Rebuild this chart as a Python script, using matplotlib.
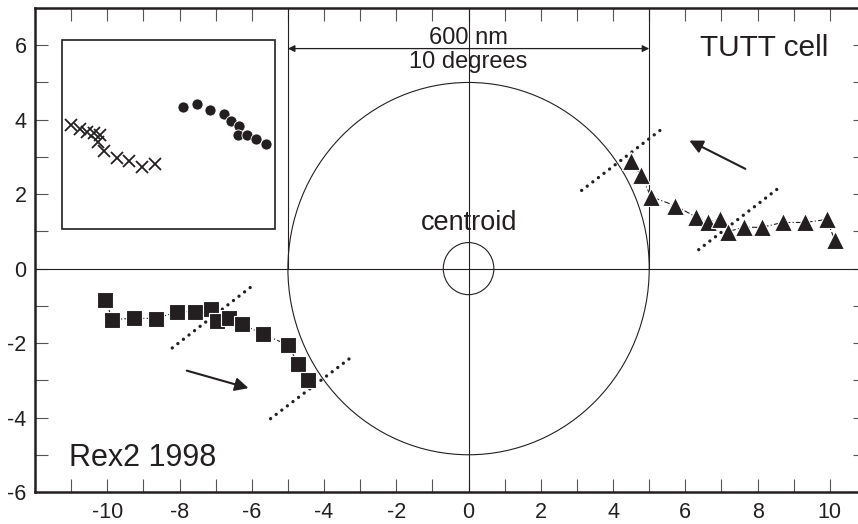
import numpy as np
import matplotlib.pyplot as plt
from matplotlib.patches import Circle, Rectangle
from matplotlib.ticker import MultipleLocator

plt.rcParams['font.family'] = ['Liberation Sans', 'DejaVu Sans']
plt.rcParams['axes.unicode_minus'] = False

INK = '#231f20'

# Rex2 1998 track (squares)
rex_x = [-10.05, -9.86, -9.26, -8.64, -8.06, -7.57, -7.12, -6.96, -6.62,
         -6.27, -5.69, -5.00, -4.71, -4.45]
rex_y = [-0.83, -1.37, -1.33, -1.34, -1.16, -1.16, -1.08, -1.40, -1.33,
         -1.49, -1.76, -2.05, -2.57, -2.98]

# TUTT cell track (triangles)
tutt_x = [4.50, 4.77, 5.05, 5.72, 6.29, 6.62, 6.97, 7.17, 7.61, 8.12,
          8.69, 9.32, 9.91, 10.14]
tutt_y = [2.90, 2.51, 1.93, 1.69, 1.39, 1.26, 1.32, 0.99, 1.11, 1.11,
          1.24, 1.24, 1.32, 0.76]

# inset series
cross_x = [-11.00, -10.75, -10.55, -10.36, -10.19, -10.25, -10.08, -9.72,
           -9.39, -9.03, -8.67]
cross_y = [3.87, 3.76, 3.66, 3.63, 3.58, 3.39, 3.15, 2.96, 2.88, 2.72, 2.82]
dot_x = [-7.91, -7.52, -7.15, -6.78, -6.57, -6.35, -6.38, -6.13, -5.87, -5.60]
dot_y = [4.34, 4.43, 4.25, 4.16, 3.96, 3.84, 3.60, 3.58, 3.47, 3.35]

# dotted guide segments (x0, y0, x1, y1)
guides = [(3.13, 2.10, 5.31, 3.72), (6.37, 0.51, 8.55, 2.14),
          (-8.20, -2.13, -6.02, -0.49), (-5.48, -4.03, -3.30, -2.42)]
# motion arrows (tail, head)
arrows = [((7.66, 2.68), (6.11, 3.44)), ((-7.80, -2.74), (-6.09, -3.21))]

fig = plt.figure(figsize=(8.58, 5.24), dpi=100)
ax = fig.add_axes([35 / 858, 32 / 524, 831 / 858, 484 / 524])
ax.set_xlim(-12, 11)
ax.set_ylim(-6, 7)

# reference frame: axes lines, 5-degree circle, centroid circle
ax.axhline(0, color=INK, lw=0.8)
ax.axvline(0, color=INK, lw=0.8)
ax.plot([-5, -5], [0, 7], color=INK, lw=0.8)
ax.plot([5, 5], [0, 7], color=INK, lw=0.8)
ax.add_patch(Circle((0, 0), 5, fill=False, ec=INK, lw=0.8))
ax.add_patch(Circle((0, 0), 0.7, fill=False, ec=INK, lw=0.8))

ax.annotate('', xy=(-5, 5.91), xytext=(5, 5.91),
            arrowprops=dict(arrowstyle='<|-|>', color=INK, lw=0.9,
                            mutation_scale=10, shrinkA=0, shrinkB=0))
ax.text(0, 6.02, '600 nm', ha='center', va='baseline', fontsize=17, color=INK)
ax.text(0, 5.40, '10 degrees', ha='center', va='baseline', fontsize=17, color=INK)
ax.text(0.02, 1.05, 'centroid', ha='center', va='baseline', fontsize=19.5, color=INK)
ax.text(9.95, 5.70, 'TUTT cell', ha='right', va='baseline', fontsize=21.5, color=INK)
ax.text(-11.06, -5.31, 'Rex2 1998', ha='left', va='baseline', fontsize=22, color=INK)

# inset box
ax.add_patch(Rectangle((-11.24, 1.07), 5.89, 5.07, fill=False, ec=INK, lw=1.2))
ax.plot(cross_x, cross_y, 'x', color=INK, ms=8, mew=1.3)
ax.plot(dot_x, dot_y, 'o', color=INK, ms=8, mec='white', mew=0.6)

for x0, y0, x1, y1 in guides:
    ax.plot([x0, x1], [y0, y1], color=INK, lw=2.4, linestyle=(0, (0.01, 2.1)),
            dash_capstyle='round')

for tail, head in arrows:
    ax.annotate('', xy=head, xytext=tail,
                arrowprops=dict(arrowstyle='-|>', color=INK, lw=1.5,
                                mutation_scale=20, shrinkA=0, shrinkB=0))

ax.plot(rex_x, rex_y, color=INK, lw=0.8, linestyle=(0, (5, 2, 1, 2)))
ax.plot(rex_x, rex_y, 's', color=INK, ms=11, mec='white', mew=0.8)
ax.plot(tutt_x, tutt_y, color=INK, lw=0.8, linestyle=(0, (5, 2, 1, 2)))
ax.plot(tutt_x, tutt_y, '^', color=INK, ms=13.5, mec='white', mew=0.8)

ax.xaxis.set_major_locator(MultipleLocator(2))
ax.xaxis.set_minor_locator(MultipleLocator(1))
ax.yaxis.set_major_locator(MultipleLocator(2))
ax.yaxis.set_minor_locator(MultipleLocator(1))
ax.set_xticks(np.arange(-10, 11, 2))
ax.set_yticks(np.arange(-6, 7, 2))
ax.tick_params(which='both', direction='in', top=True, right=True,
               length=9.5, width=0.8, color='#555555', labelsize=15.5,
               labelcolor=INK)
ax.tick_params(axis='x', pad=7)
ax.tick_params(axis='y', pad=6)
for side in ax.spines.values():
    side.set_linewidth(1.8)
    side.set_color(INK)

fig.savefig('out.png', dpi=100)
